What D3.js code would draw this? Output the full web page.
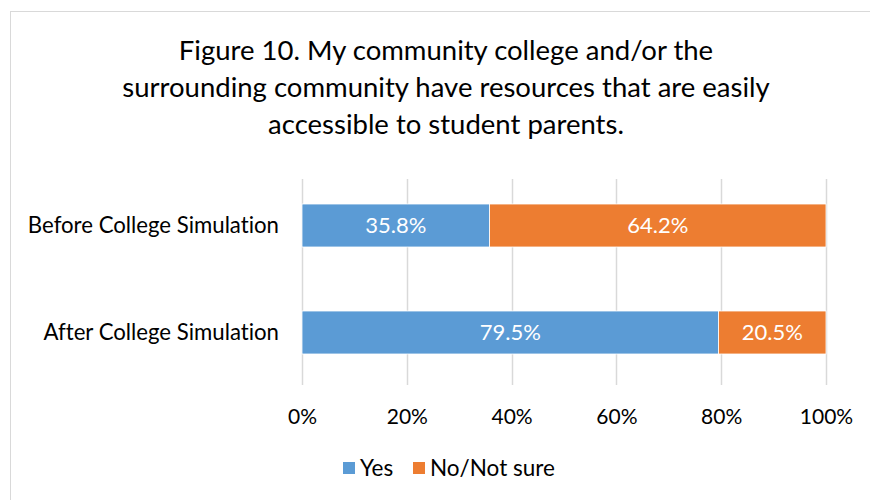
<!DOCTYPE html>
<html>
<head>
<meta charset="utf-8">
<script src="https://cdn.jsdelivr.net/npm/d3@7"></script>
<style>
  html, body { margin: 0; padding: 0; background: #fff; }
  svg { display: block; font-family: Lato, "Open Sans", sans-serif; font-variant-ligatures: none; }
</style>
</head>
<body>
<svg id="chart" width="870" height="500"></svg>
<script>
// Survey responses, percent of respondents
const categories = ["Before College Simulation", "After College Simulation"];
const seriesNames = ["Yes", "No/Not sure"];
const yesValues = [35.8, 79.5];
const noValues = [64.2, 20.5];
const tickValues = [0, 20, 40, 60, 80, 100];
const titleLines = [
  "Figure 10. My community college and/or the",
  "surrounding community have resources that are easily",
  "accessible to student parents."
];
const colors = ["#5B9BD5", "#ED7D31"];

const svg = d3.select("#chart");

// chart frame
svg.append("rect")
  .attr("x", 10.5).attr("y", 11.5)
  .attr("width", 880).attr("height", 500)
  .attr("fill", "#fff").attr("stroke", "#d9d9d9").attr("stroke-width", 1);

// title
svg.append("g").selectAll("text")
  .data(titleLines)
  .join("text")
  .attr("x", 446)
  .attr("y", (d, i) => 60 + i * 37)
  .attr("text-anchor", "middle")
  .attr("font-size", 27.5)
  .attr("fill", "#000")
  .text(d => d);

const x = d3.scaleLinear().domain([0, 100]).range([302, 826]);

// gridlines
svg.append("g").selectAll("line")
  .data(tickValues)
  .join("line")
  .attr("x1", d => Math.round(x(d)) + 0.5)
  .attr("x2", d => Math.round(x(d)) + 0.5)
  .attr("y1", 179).attr("y2", 385)
  .attr("stroke", "#d9d9d9").attr("stroke-width", 1.5);

// stacked data
const rows = categories.map((c, i) => ({ cat: c, Yes: yesValues[i], "No/Not sure": noValues[i] }));
const stacked = d3.stack().keys(seriesNames)(rows);

const yb = d3.scalePoint().domain(categories).range([204, 311]);
const barH = 43;

const groups = svg.append("g").selectAll("g")
  .data(stacked)
  .join("g")
  .attr("fill", (d, i) => colors[i]);

groups.selectAll("rect")
  .data(d => d)
  .join("rect")
  .attr("x", d => x(d[0]))
  .attr("y", d => yb(d.data.cat))
  .attr("width", d => x(d[1]) - x(d[0]))
  .attr("height", barH)
  .attr("stroke", "#fff").attr("stroke-width", 0.8);

// value labels
groups.selectAll("text")
  .data(d => d.map(v => ({ v, key: d.key })))
  .join("text")
  .attr("x", d => (x(d.v[0]) + x(d.v[1])) / 2)
  .attr("y", d => yb(d.v.data.cat) + barH / 2)
  .attr("dy", "0.35em")
  .attr("text-anchor", "middle")
  .attr("fill", "#fff")
  .attr("font-size", 22)
  .text(d => d.v.data[d.key].toFixed(1) + "%");

// category axis labels
svg.append("g").selectAll("text")
  .data(categories)
  .join("text")
  .attr("x", 279)
  .attr("y", d => yb(d) + barH / 2)
  .attr("dy", "0.35em")
  .attr("text-anchor", "end")
  .attr("font-size", 22.2)
  .attr("fill", "#000")
  .text(d => d);

// value axis
const xAxis = d3.axisBottom(x).tickValues(tickValues).tickFormat(d => d + "%").tickSize(0).tickPadding(0);
const axisG = svg.append("g").attr("transform", "translate(0,409)").call(xAxis);
axisG.select(".domain").remove();
axisG.selectAll("text")
  .attr("font-size", 21)
  .attr("font-family", "Lato, 'Open Sans', sans-serif")
  .attr("fill", "#000");

// legend
const legend = svg.append("g");
const legendItems = [
  { name: seriesNames[0], color: colors[0], x: 343 },
  { name: seriesNames[1], color: colors[1], x: 413 }
];
const li = legend.selectAll("g").data(legendItems).join("g")
  .attr("transform", d => `translate(${d.x},462)`);
li.append("rect").attr("width", 12).attr("height", 12).attr("fill", d => d.color);
li.append("text").attr("x", 17).attr("y", 6).attr("dy", "0.35em")
  .attr("font-size", 22.5).attr("fill", "#000").text(d => d.name);
</script>
</body>
</html>
